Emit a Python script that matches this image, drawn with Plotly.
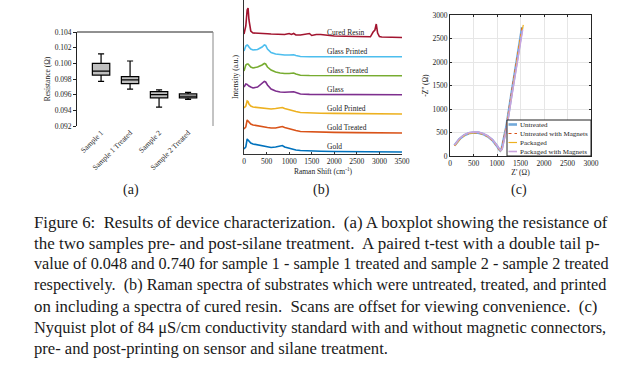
import plotly.graph_objects as go

W, H = 642, 369
SERIF = "Liberation Serif, Times New Roman, serif"

# ---------------- Panel (a): boxplot data ----------------
box_categories = ["Sample 1", "Sample 1 Treated", "Sample 2", "Sample 2 Treated"]
box_lower = [0.0977, 0.0967, 0.0944, 0.0954]
box_q1 = [0.0985, 0.0974, 0.0956, 0.0956]
box_median = [0.0990, 0.0979, 0.0960, 0.0958]
box_q3 = [0.1000, 0.0983, 0.0964, 0.0961]
box_upper = [0.1012, 0.1003, 0.0966, 0.0963]

# ---------------- Panel (b): Raman spectra ----------------
raman_shift = [0, 40, 70, 90, 110, 150, 200, 300, 400, 450, 480, 520, 600, 700, 800, 850,
               900, 1000, 1050, 1100, 1150, 1250, 1450, 1500, 1600, 1700, 2000, 2500, 2800,
               2860, 2900, 2930, 2960, 3000, 3050, 3500]
gold = [3, 5, 13, 12, 10, 9, 8, 7, 6, 6, 5.5, 5, 4.5, 5, 6, 6.5, 5, 3.5, 3, 2.5, 2, 1.5,
        1, 1, 0.8, 0.8, 0.5, 0.3, 0.2, 0.2, 0.2, 0.2, 0.2, 0.2, 0.1, 0]
gold_treated = [4, 6, 13, 12, 10.5, 9, 8, 7, 6.5, 6, 5.5, 5.5, 5, 5, 6, 6.5, 5.5, 4, 3.5, 3,
                2.5, 1.5, 1.2, 1, 1, 0.8, 0.6, 0.4, 0.3, 0.3, 0.3, 0.3, 0.3, 0.3, 0.2, 0]
gold_printed = [6, 8, 13, 12.5, 10, 8, 7, 6.5, 6, 6, 5.5, 5.5, 5, 5.5, 6, 6.5, 5.5, 4, 3.5, 3,
                2.5, 1.5, 1, 1, 0.8, 0.8, 0.6, 0.4, 0.3, 0.3, 0.3, 0.3, 0.3, 0.3, 0.2, 0]
glass = [8, 11, 10.5, 9.5, 9, 8, 7, 8, 11.5, 13.5, 13, 10, 6, 4, 3, 2.8, 2.8, 3, 3.3, 3.2,
         2.5, 1, 0.6, 0.6, 0.5, 0.5, 0.4, 0.3, 0.3, 0.3, 0.3, 0.3, 0.3, 0.3, 0.3, 0.2]
glass_treated = [5, 11, 12, 12, 11, 9, 8, 9, 11, 12.5, 12, 9, 6, 4, 3, 2.5, 2.5, 2.5, 3, 3,
                 2, 0.8, 0.5, 0.5, 0.5, 0.5, 0.4, 0.3, 0.3, 0.3, 0.3, 0.3, 0.3, 0.3, 0.3, 0.3]
glass_printed = [6, 11, 12, 11.5, 10, 8, 7, 7.5, 10, 12, 11.5, 8, 4.5, 3, 2.5, 2, 2, 2, 2.3,
                 2.2, 1.5, 0.5, 0.3, 0.3, 0.3, 0.3, 0.3, 0.3, 0.3, 0.3, 0.3, 0.3, 0.3, 0.3, 0.3, 0.2]
cured_resin = [4, 12, 28, 30, 18, 7, 5, 5, 4.5, 4.5, 4.5, 4.3, 4, 3.8, 3.5, 4, 3.5, 4.5, 3.5,
               4.5, 3, 3, 4.5, 2.5, 3.5, 3.5, 2, 1.5, 1.2, 6, 8, 14, 5, 1.5, 1, 0.5]
spectra_names = ["Gold", "Gold Treated", "Gold Printed", "Glass", "Glass Treated",
                 "Glass Printed", "Cured Resin"]
spectra_values = [gold, gold_treated, gold_printed, glass, glass_treated, glass_printed, cured_resin]
spectra_offsets = [2, 21, 40, 59, 78, 97, 116]
spectra_colors = ["#0072BD", "#D95319", "#EDB120", "#7E2F8E", "#77AC30", "#4DBEEE", "#A2142F"]

# ---------------- Panel (c): Nyquist data ----------------
nyq_names = ["Untreated", "Untreated with Magnets", "Packaged", "Packaged with Magnets"]
zr_untreated = [95, 150, 200, 300, 400, 500, 600, 700, 800, 900, 950, 1000, 1040, 1070, 1100,
                1140, 1200, 1300, 1400, 1500, 1535]
zi_untreated = [225, 305, 360, 440, 485, 500, 497, 470, 420, 340, 285, 215, 150, 115, 150,
                330, 620, 1265, 1910, 2555, 2740]
zr_untreated_mag = [95, 150, 200, 300, 400, 500, 600, 700, 800, 900, 950, 1000, 1040, 1065,
                    1095, 1135, 1195, 1295, 1395, 1495, 1535]
zi_untreated_mag = [220, 300, 355, 435, 480, 495, 492, 465, 415, 335, 280, 210, 145, 112, 145,
                    330, 620, 1265, 1910, 2555, 2760]
zr_packaged = [100, 155, 205, 305, 405, 505, 605, 705, 805, 905, 955, 1005, 1045, 1075, 1105,
               1145, 1205, 1305, 1405, 1505, 1560]
zi_packaged = [215, 295, 350, 430, 478, 493, 490, 463, 413, 333, 278, 208, 145, 110, 145, 325,
               615, 1260, 1905, 2550, 2790]
zr_packaged_mag = [95, 150, 200, 300, 400, 500, 600, 700, 800, 900, 950, 1000, 1045, 1080,
                   1110, 1150, 1210, 1310, 1410, 1510, 1545]
zi_packaged_mag = [230, 312, 368, 450, 495, 510, 507, 480, 430, 350, 293, 222, 155, 118, 152,
                   330, 615, 1255, 1895, 2535, 2690]
nyq_zr = [zr_untreated, zr_untreated_mag, zr_packaged, zr_packaged_mag]
nyq_zi = [zi_untreated, zi_untreated_mag, zi_packaged, zi_packaged_mag]
nyq_colors = ["#72A9DA", "#D95319", "#EDB120", "#C9A3DD"]
nyq_dash = ["solid", "dot", "dashdot", "solid"]
nyq_width = [2.6, 1.2, 1.2, 1.6]

caption_lines = [
    "Figure 6:  Results of device characterization.  (a) A boxplot showing the resistance of",
    "the two samples pre- and post-silane treatment.  A paired t-test with a double tail p-",
    "value of 0.048 and 0.740 for sample 1 - sample 1 treated and sample 2 - sample 2 treated",
    "respectively.  (b) Raman spectra of substrates which were untreated, treated, and printed",
    "on including a spectra of cured resin.  Scans are offset for viewing convenience.  (c)",
    "Nyquist plot of 84 \u03bcS/cm conductivity standard with and without magnetic connectors,",
    "pre- and post-printing on sensor and silane treatment.",
]
caption_sizes = [16.84, 17.0, 16.2, 16.25, 16.78, 16.45, 16.6]


def px_x(p):
    return p / W


def px_y(p):
    return 1 - p / H


fig = go.Figure()

# (a) boxes
fig.add_trace(go.Box(
    x=box_categories, q1=box_q1, median=box_median, q3=box_q3,
    lowerfence=box_lower, upperfence=box_upper,
    fillcolor="#bfbfbf", line=dict(color="black", width=1.2),
    whiskerwidth=0.35, width=0.6, showlegend=False, boxpoints=False,
    xaxis="x", yaxis="y", name="Resistance"))

# (b) spectra
for name, vals, off, col in zip(spectra_names, spectra_values, spectra_offsets, spectra_colors):
    fig.add_trace(go.Scatter(
        x=raman_shift, y=[v + off for v in vals], mode="lines", name=name,
        line=dict(color=col, width=1.6), showlegend=False, xaxis="x2", yaxis="y2"))
    fig.add_annotation(x=1800, y=off + 5.5, xref="x2", yref="y2", text=name, showarrow=False,
                       xanchor="left", yanchor="middle", font=dict(family=SERIF, size=7.5, color="#222"))

# (c) Nyquist
for name, zr, zi, col, dash, wdt in zip(nyq_names, nyq_zr, nyq_zi, nyq_colors, nyq_dash, nyq_width):
    fig.add_trace(go.Scatter(
        x=zr, y=zi, mode="lines", name=name, line=dict(color=col, width=wdt, dash=dash),
        showlegend=False, xaxis="x3", yaxis="y3"))

tickfont = dict(family=SERIF, size=7.5, color="#222")
titlefont = dict(family=SERIF, size=7.5, color="#222")

fig.update_layout(
    width=W, height=H, margin=dict(l=0, r=0, t=0, b=0, autoexpand=False),
    paper_bgcolor="white", plot_bgcolor="white", showlegend=False,
    xaxis=dict(domain=[px_x(77), px_x(213)], anchor="y", type="category",
               range=[-0.83, 3.86], tickangle=-45, tickfont=tickfont, showline=False,
               ticks="", showgrid=False, zeroline=False),
    yaxis=dict(domain=[px_y(126), px_y(32)], anchor="x", range=[0.092, 0.104], dtick=0.002,
               tickformat=".3f", ticks="outside", ticklen=3, tickcolor="#222",
               showline=True, linecolor="#222", linewidth=1, showgrid=False, zeroline=False,
               tickfont=tickfont, title=dict(text="Resistance (\u03a9)", font=titlefont, standoff=3)),
    xaxis2=dict(domain=[px_x(244), px_x(402)], anchor="y2", range=[0, 3500], dtick=500,
                showline=True, linecolor="#333", linewidth=1, ticks="inside", ticklen=2,
                tickcolor="#333", showgrid=False, zeroline=False, tickfont=tickfont,
                title=dict(text="Raman Shift (cm<sup>-1</sup>)", font=titlefont, standoff=3)),
    yaxis2=dict(domain=[px_y(154), 1], anchor="x2", range=[0, 154], showticklabels=False,
                showline=True, linecolor="#333", linewidth=1, ticks="", showgrid=False,
                zeroline=False, title=dict(text="Intensity (a.u.)", font=titlefont, standoff=3)),
    xaxis3=dict(domain=[px_x(450), px_x(591)], anchor="y3", range=[0, 3000], dtick=500,
                showline=True, mirror="ticks", linecolor="#262626", linewidth=1,
                ticks="inside", ticklen=2, tickcolor="#262626", showgrid=True,
                gridcolor="#e6e6e6", zeroline=False, tickfont=tickfont,
                title=dict(text="Z' (\u03a9)", font=titlefont, standoff=2)),
    yaxis3=dict(domain=[px_y(156), px_y(15)], anchor="x3", range=[0, 3000], dtick=500,
                showline=True, mirror="ticks", linecolor="#262626", linewidth=1,
                ticks="inside", ticklen=2, tickcolor="#262626", showgrid=True,
                gridcolor="#e6e6e6", zeroline=False, tickfont=tickfont,
                title=dict(text="-Z'' (\u03a9)", font=titlefont, standoff=2)),
)

# frame lines of panel (a)
fig.add_shape(type="line", xref="x domain", yref="y domain", x0=0, x1=1, y0=1, y1=1,
              line=dict(color="#222", width=1))
fig.add_shape(type="line", xref="x domain", yref="y domain", x0=1, x1=1, y0=0, y1=1,
              line=dict(color="#888", width=1))

# manual legend for panel (c)
lg_x0, lg_x1, lg_top, lg_bot = 507, 591, 120, 156
fig.add_shape(type="rect", xref="paper", yref="paper", x0=px_x(lg_x0), x1=px_x(lg_x1),
              y0=px_y(lg_bot), y1=px_y(lg_top), line=dict(color="#222", width=1),
              fillcolor="white", layer="above")
for i, (name, col, dash, wdt) in enumerate(zip(nyq_names, nyq_colors, nyq_dash, nyq_width)):
    yy = lg_top + 4.5 + 9 * i
    fig.add_shape(type="line", xref="paper", yref="paper", x0=px_x(508.5), x1=px_x(517),
                  y0=px_y(yy), y1=px_y(yy), line=dict(color=col, width=wdt, dash=dash), layer="above")
    fig.add_annotation(x=px_x(518), y=px_y(yy), xref="paper", yref="paper", text=name,
                       showarrow=False, xanchor="left", yanchor="middle",
                       font=dict(family=SERIF, size=7, color="#222"))

# panel labels
for lab, xp in [("(a)", 131), ("(b)", 322), ("(c)", 519)]:
    fig.add_annotation(x=px_x(xp), y=px_y(190), xref="paper", yref="paper", text=lab,
                       showarrow=False, xanchor="center", yanchor="middle",
                       font=dict(family=SERIF, size=14, color="#222"))

# caption
for i, (line, fs) in enumerate(zip(caption_lines, caption_sizes)):
    fig.add_annotation(x=px_x(32), y=px_y(222 + 21 * i), xref="paper", yref="paper",
                       text=line.replace("  ", "\u00a0 "), showarrow=False, xanchor="left",
                       yanchor="middle", font=dict(family=SERIF, size=fs, color="#1a1a1a"))

fig.write_html("out.html", config={"displayModeBar": False},
               post_script="document.body.style.margin='0';document.body.style.padding='0';")
